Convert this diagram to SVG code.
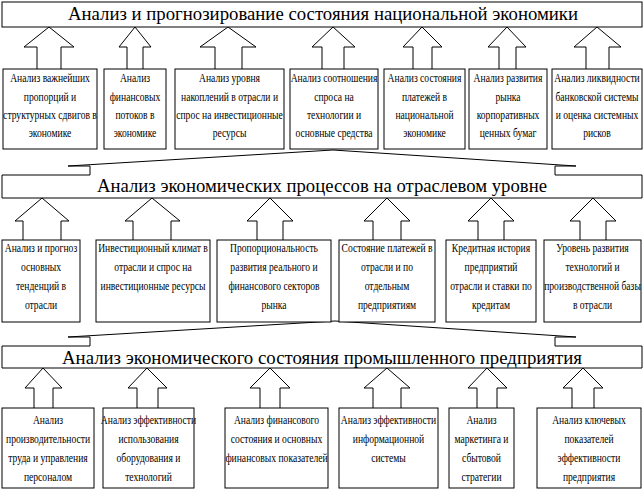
<svg xmlns="http://www.w3.org/2000/svg" width="644" height="492" viewBox="0 0 644 492">
<style>
.bg{fill:#fff}
.box,.arr,.bar{fill:#fff;stroke:#000;stroke-width:1}
.t{font-family:"Liberation Serif","Times New Roman",serif;font-size:12px;text-anchor:middle;fill:#000}
.h{font-family:"Liberation Serif","Times New Roman",serif;font-size:18px;text-anchor:middle;fill:#000}
</style>
<rect class="bg" x="0" y="0" width="644" height="492"/>
<g id="connectors">
<polyline class="arr" points="37,69 37,47 24,47 49,27 74,47 61,47 61,69"/>
<polyline class="arr" points="127,69 127,47 119,47 135,27 151,47 143,47 143,69"/>
<polyline class="arr" points="215,69 215,47 200,47 228,27 256,47 242,47 242,69"/>
<polyline class="arr" points="322,69 322,47 312,47 333,27 355,47 344,47 344,69"/>
<polyline class="arr" points="413,69 413,47 403,47 422,27 442,47 432,47 432,69"/>
<polyline class="arr" points="499,69 499,47 488,47 507,27 526,47 516,47 516,69"/>
<polyline class="arr" points="586,69 586,47 574,47 597,27 621,47 609,47 609,69"/>
<polyline class="arr" points="23,240 23,221 15,221 42,198 69,221 61,221 61,240"/>
<polyline class="arr" points="133,240 133,221 125,221 152,198 180,221 171,221 171,240"/>
<polyline class="arr" points="257,240 257,221 247,221 270,198 293,221 283,221 283,240"/>
<polyline class="arr" points="373,240 373,221 364,221 387,198 410,221 401,221 401,240"/>
<polyline class="arr" points="478,240 478,221 468,221 491,198 514,221 504,221 504,240"/>
<polyline class="arr" points="580,240 580,221 570,221 593,198 616,221 606,221 606,240"/>
<polyline class="arr" points="34,408 34,388 25,388 43,368 62,388 53,388 53,408"/>
<polyline class="arr" points="137,408 137,388 128,388 147,368 167,388 158,388 158,408"/>
<polyline class="arr" points="260,408 260,388 250,388 270,368 290,388 280,388 280,408"/>
<polyline class="arr" points="373,408 373,388 364,388 387,368 410,388 401,388 401,408"/>
<polyline class="arr" points="477,408 477,388 468,388 487,368 507,388 497,388 497,408"/>
<polyline class="arr" points="572,408 572,388 563,388 583,368 603,388 594,388 594,408"/>
</g>
<g id="bar1">
<rect class="bar" x="2" y="2" width="640" height="25"/>
<text class="h" x="323" y="20" textLength="510" lengthAdjust="spacingAndGlyphs">Анализ и прогнозирование состояния национальной экономики</text>
</g>
<g id="bar2">
<polygon class="bar" points="2,175 90,175 90,166 68,166 333,150 576,166 555,166 555,175 642,175 642,198 2,198"/>
<text class="h" x="322" y="192" textLength="450" lengthAdjust="spacingAndGlyphs">Анализ экономических процессов на отраслевом уровне</text>
</g>
<g id="bar3">
<polygon class="bar" points="2,346 90,346 90,337 68,337 335,321 576,337 555,337 555,346 642,346 642,368 2,368"/>
<text class="h" x="322" y="364" textLength="520" lengthAdjust="spacingAndGlyphs">Анализ экономического состояния промышленного предприятия</text>
</g>
<g id="r1n1"><rect class="box" x="3" y="69" width="94" height="80"/><g transform="translate(50 0) scale(0.8 1)"><text class="t"><tspan x="0" y="82">Анализ важнейших</tspan><tspan x="0" y="101">пропорций и</tspan><tspan x="0" y="119">структурных сдвигов в</tspan><tspan x="0" y="137.5">экономике</tspan></text></g></g>
<g id="r1n2"><rect class="box" x="104" y="69" width="62" height="80"/><g transform="translate(135 0) scale(0.8 1)"><text class="t"><tspan x="0" y="82">Анализ</tspan><tspan x="0" y="101">финансовых</tspan><tspan x="0" y="119">потоков в</tspan><tspan x="0" y="137.5">экономике</tspan></text></g></g>
<g id="r1n3"><rect class="box" x="175" y="69" width="109" height="80"/><g transform="translate(229.5 0) scale(0.8 1)"><text class="t"><tspan x="0" y="82">Анализ уровня</tspan><tspan x="0" y="101">накоплений в отрасли и</tspan><tspan x="0" y="119">спрос на инвестиционные</tspan><tspan x="0" y="137.5">ресурсы</tspan></text></g></g>
<g id="r1n4"><rect class="box" x="290" y="69" width="88" height="80"/><g transform="translate(334 0) scale(0.8 1)"><text class="t"><tspan x="0" y="82">Анализ соотношения</tspan><tspan x="0" y="101">спроса на</tspan><tspan x="0" y="119">технологии и</tspan><tspan x="0" y="137.5">основные средства</tspan></text></g></g>
<g id="r1n5"><rect class="box" x="384" y="69" width="81" height="80"/><g transform="translate(424.5 0) scale(0.8 1)"><text class="t"><tspan x="0" y="82">Анализ состояния</tspan><tspan x="0" y="101">платежей в</tspan><tspan x="0" y="119">национальной</tspan><tspan x="0" y="137.5">экономике</tspan></text></g></g>
<g id="r1n6"><rect class="box" x="469" y="69" width="78" height="80"/><g transform="translate(508 0) scale(0.8 1)"><text class="t"><tspan x="0" y="82">Анализ развития</tspan><tspan x="0" y="101">рынка</tspan><tspan x="0" y="119">корпоративных</tspan><tspan x="0" y="137.5">ценных бумаг</tspan></text></g></g>
<g id="r1n7"><rect class="box" x="552" y="69" width="90" height="80"/><g transform="translate(597 0) scale(0.8 1)"><text class="t"><tspan x="0" y="82">Анализ ликвидности</tspan><tspan x="0" y="101">банковской системы</tspan><tspan x="0" y="119">и оценка системных</tspan><tspan x="0" y="137.5">рисков</tspan></text></g></g>
<g id="r2n1"><rect class="box" x="2" y="240" width="78" height="82"/><g transform="translate(41 0) scale(0.8 1)"><text class="t"><tspan x="0" y="252.5">Анализ и прогноз</tspan><tspan x="0" y="271.5">основных</tspan><tspan x="0" y="290.5">тенденций в</tspan><tspan x="0" y="309.5">отрасли</tspan></text></g></g>
<g id="r2n2"><rect class="box" x="96" y="240" width="114" height="82"/><g transform="translate(153 0) scale(0.8 1)"><text class="t"><tspan x="0" y="252.5">Инвестиционный климат в</tspan><tspan x="0" y="271.5">отрасли и спрос на</tspan><tspan x="0" y="290.5">инвестиционные ресурсы</tspan></text></g></g>
<g id="r2n3"><rect class="box" x="217" y="240" width="114" height="82"/><g transform="translate(274 0) scale(0.8 1)"><text class="t"><tspan x="0" y="252.5">Пропорциональность</tspan><tspan x="0" y="271.5">развития реального и</tspan><tspan x="0" y="290.5">финансового секторов</tspan><tspan x="0" y="309.5">рынка</tspan></text></g></g>
<g id="r2n4"><rect class="box" x="339" y="240" width="96" height="82"/><g transform="translate(387 0) scale(0.8 1)"><text class="t"><tspan x="0" y="252.5">Состояние платежей в</tspan><tspan x="0" y="271.5">отрасли и по</tspan><tspan x="0" y="290.5">отдельным</tspan><tspan x="0" y="309.5">предприятиям</tspan></text></g></g>
<g id="r2n5"><rect class="box" x="446" y="240" width="90" height="82"/><g transform="translate(491 0) scale(0.8 1)"><text class="t"><tspan x="0" y="252.5">Кредитная история</tspan><tspan x="0" y="271.5">предприятий</tspan><tspan x="0" y="290.5">отрасли и ставки по</tspan><tspan x="0" y="309.5">кредитам</tspan></text></g></g>
<g id="r2n6"><rect class="box" x="544" y="240" width="97" height="82"/><g transform="translate(592.5 0) scale(0.8 1)"><text class="t"><tspan x="0" y="252.5">Уровень развития</tspan><tspan x="0" y="271.5">технологий и</tspan><tspan x="0" y="290.5">производственной базы</tspan><tspan x="0" y="309.5">в отрасли</tspan></text></g></g>
<g id="r3n1"><rect class="box" x="2" y="408" width="92" height="80"/><g transform="translate(48 0) scale(0.8 1)"><text class="t"><tspan x="0" y="424">Анализ</tspan><tspan x="0" y="443">производительности</tspan><tspan x="0" y="462">труда и управления</tspan><tspan x="0" y="481">персоналом</tspan></text></g></g>
<g id="r3n2"><rect class="box" x="103" y="408" width="91" height="80"/><g transform="translate(148.5 0) scale(0.8 1)"><text class="t"><tspan x="0" y="424">Анализ эффективности</tspan><tspan x="0" y="443">использования</tspan><tspan x="0" y="462">оборудования и</tspan><tspan x="0" y="481">технологий</tspan></text></g></g>
<g id="r3n3"><rect class="box" x="225" y="408" width="103" height="80"/><g transform="translate(276.5 0) scale(0.8 1)"><text class="t"><tspan x="0" y="424">Анализ финансового</tspan><tspan x="0" y="443">состояния и основных</tspan><tspan x="0" y="462">финансовых показателей</tspan></text></g></g>
<g id="r3n4"><rect class="box" x="339" y="408" width="99" height="80"/><g transform="translate(388.5 0) scale(0.8 1)"><text class="t"><tspan x="0" y="424">Анализ эффективности</tspan><tspan x="0" y="443">информационной</tspan><tspan x="0" y="462">системы</tspan></text></g></g>
<g id="r3n5"><rect class="box" x="449" y="408" width="65" height="80"/><g transform="translate(481.5 0) scale(0.8 1)"><text class="t"><tspan x="0" y="424">Анализ</tspan><tspan x="0" y="443">маркетинга и</tspan><tspan x="0" y="462">сбытовой</tspan><tspan x="0" y="481">стратегии</tspan></text></g></g>
<g id="r3n6"><rect class="box" x="537" y="408" width="104" height="80"/><g transform="translate(589 0) scale(0.8 1)"><text class="t"><tspan x="0" y="424">Анализ ключевых</tspan><tspan x="0" y="443">показателей</tspan><tspan x="0" y="462">эффективности</tspan><tspan x="0" y="481">предприятия</tspan></text></g></g>
</svg>
